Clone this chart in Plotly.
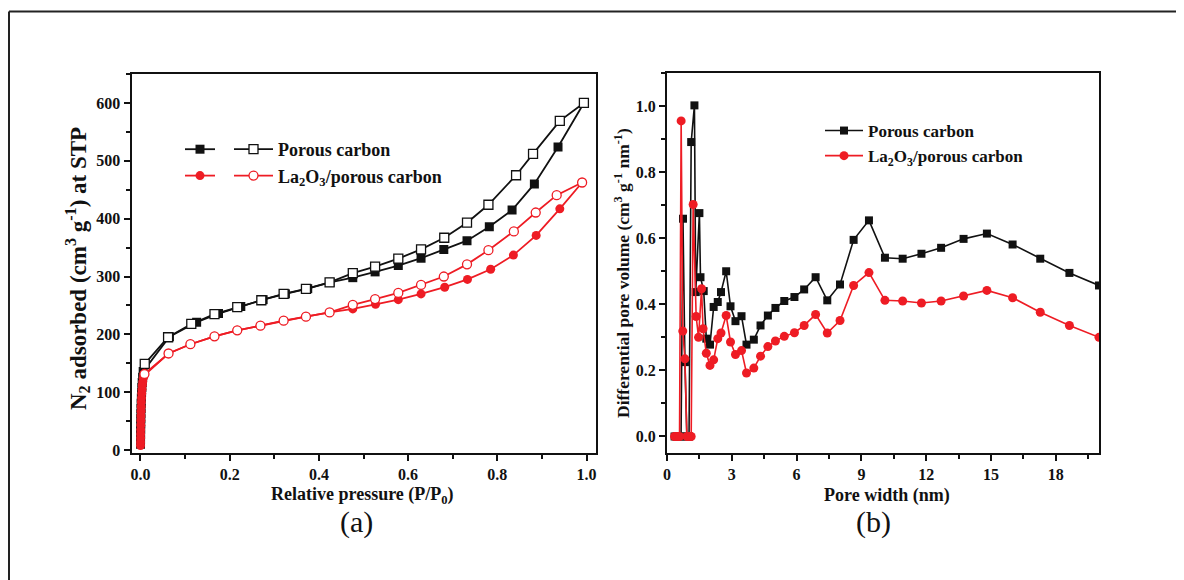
import plotly.graph_objects as go

# ---------------- Panel (a): N2 isotherms ----------------
pc_ads_p = [0.0002, 0.0003, 0.0004, 0.0005, 0.0007, 0.0009, 0.0011, 0.0014, 0.0017, 0.0021,
            0.0026, 0.0032, 0.0040, 0.0050, 0.0062, 0.065, 0.126, 0.175, 0.225, 0.275, 0.325,
            0.375, 0.425, 0.476, 0.526, 0.578, 0.629, 0.680, 0.732, 0.782, 0.833, 0.883, 0.936, 0.994]
pc_ads_v = [10, 18, 27, 36, 45, 54, 63, 72, 81, 90, 99, 108, 117, 126, 136, 196, 221, 236, 248,
            260, 270, 279, 290, 298, 308, 319, 331.6, 346.5, 362, 386, 415, 460, 524, 600]
pc_des_p = [0.994, 0.940, 0.880, 0.842, 0.780, 0.732, 0.681, 0.629, 0.578, 0.526, 0.476, 0.424,
            0.371, 0.321, 0.271, 0.217, 0.166, 0.114, 0.062, 0.0097]
pc_des_v = [600, 569, 512, 475, 424, 393, 367, 347, 331, 317, 306, 290, 278.6, 270, 259, 247,
            235, 218, 195, 149]

la_ads_p = [0.0002, 0.0003, 0.0004, 0.0005, 0.0006, 0.0008, 0.0010, 0.0012, 0.0015, 0.0018,
            0.0021, 0.0025, 0.0030, 0.0036, 0.0043, 0.0052, 0.0063, 0.0080, 0.063, 0.112, 0.166,
            0.217, 0.269, 0.321, 0.371, 0.424, 0.476, 0.527, 0.578, 0.629, 0.682, 0.733, 0.785,
            0.836, 0.887, 0.940, 0.990]
la_ads_v = [8, 14, 21, 28, 35, 43, 51, 59, 67, 75, 83, 90, 98, 105, 112, 118, 124, 129, 167, 183,
            196.6, 207, 215, 223.7, 230.6, 238, 244, 252, 260, 270, 281.5, 295, 312.5, 337, 371,
            417, 462.5]
la_des_p = [0.990, 0.933, 0.886, 0.837, 0.780, 0.732, 0.680, 0.629, 0.578, 0.526, 0.476, 0.424,
            0.371, 0.321, 0.269, 0.217, 0.166, 0.112, 0.063, 0.009]
la_des_v = [462.5, 440.6, 410.6, 378, 345.5, 321, 300, 285.5, 271.6, 261, 251, 238, 230.6,
            223.7, 215, 207, 196.6, 183, 167, 131.5]

# ---------------- Panel (b): pore size distribution ----------------
pc_w = [0.35, 0.45, 0.55, 0.65, 0.74, 0.83, 0.92, 1.02, 1.12, 1.27, 1.33, 1.50, 1.55, 1.70,
        1.82, 1.99, 2.16, 2.35, 2.50, 2.74, 2.94, 3.17, 3.45, 3.68, 4.02, 4.33, 4.67, 5.02,
        5.43, 5.90, 6.35, 6.88, 7.42, 8.01, 8.64, 9.35, 10.09, 10.91, 11.78, 12.69, 13.73,
        14.81, 16.0, 17.28, 18.63, 20.0]
pc_dv = [0, 0, 0, 0, 0.659, 0.225, 0, 0, 0.891, 1.002, 0.437, 0.676, 0.482, 0.44,
         0.296, 0.278, 0.392, 0.407, 0.437, 0.500, 0.394, 0.349, 0.364, 0.278, 0.293, 0.336,
         0.366, 0.389, 0.41, 0.422, 0.445, 0.482, 0.412, 0.46, 0.595, 0.654, 0.541, 0.538,
         0.553, 0.571, 0.598, 0.614, 0.581, 0.538, 0.495, 0.457]
la_w = [0.35, 0.42, 0.50, 0.58, 0.655, 0.73, 0.83, 0.92, 1.02, 1.12, 1.21, 1.35, 1.46, 1.60,
        1.67, 1.82, 1.99, 2.16, 2.35, 2.50, 2.74, 2.94, 3.17, 3.45, 3.68, 4.02, 4.33, 4.67,
        5.02, 5.43, 5.90, 6.35, 6.88, 7.42, 8.01, 8.64, 9.35, 10.09, 10.91, 11.78, 12.69,
        13.73, 14.81, 16.0, 17.28, 18.63, 20.0]
la_dv = [0, 0, 0, 0, 0.955, 0.319, 0.235, 0, 0, 0, 0.702, 0.363, 0.30, 0.447,
         0.326, 0.252, 0.215, 0.232, 0.296, 0.313, 0.366, 0.286, 0.248, 0.26, 0.192, 0.207,
         0.243, 0.272, 0.289, 0.303, 0.314, 0.336, 0.369, 0.313, 0.351, 0.457, 0.496, 0.412,
         0.41, 0.404, 0.41, 0.425, 0.442, 0.42, 0.376, 0.336, 0.30]

name_pc = "Porous carbon"
name_la = "La<sub>2</sub>O<sub>3</sub>/porous carbon"

BLACK = "#111111"
RED = "#ee1c24"
OFF = 8                      # default page margin of the html body
W, H = 1184 - OFF, 580 - OFF


def fx(px):
    """page pixel x -> paper fraction"""
    return (px - OFF) / W


def fy(py):
    """page pixel y -> paper fraction"""
    return 1 - (py - OFF) / H


fig = go.Figure()

# panel (a)
fig.add_trace(go.Scatter(x=pc_ads_p, y=pc_ads_v, mode="lines+markers", name=" ",
                         line=dict(color=BLACK, width=1.8),
                         marker=dict(symbol="square", size=9, color=BLACK),
                         xaxis="x", yaxis="y", legend="legend"))
fig.add_trace(go.Scatter(x=pc_des_p, y=pc_des_v, mode="lines+markers", name=name_pc,
                         line=dict(color=BLACK, width=1.8),
                         marker=dict(symbol="square", size=9, color="white",
                                     line=dict(color=BLACK, width=1.3)),
                         xaxis="x", yaxis="y", legend="legend2"))
fig.add_trace(go.Scatter(x=la_ads_p, y=la_ads_v, mode="lines+markers", name=" ",
                         line=dict(color=RED, width=1.8),
                         marker=dict(symbol="circle", size=9, color=RED),
                         xaxis="x", yaxis="y", legend="legend"))
fig.add_trace(go.Scatter(x=la_des_p, y=la_des_v, mode="lines+markers", name=name_la,
                         line=dict(color=RED, width=1.8),
                         marker=dict(symbol="circle", size=9, color="white",
                                     line=dict(color=RED, width=1.3)),
                         xaxis="x", yaxis="y", legend="legend2"))

# panel (b)
fig.add_trace(go.Scatter(x=pc_w, y=pc_dv, mode="lines+markers", name=name_pc,
                         line=dict(color=BLACK, width=1.6),
                         marker=dict(symbol="square", size=8, color=BLACK),
                         xaxis="x2", yaxis="y2", legend="legend3"))
fig.add_trace(go.Scatter(x=la_w, y=la_dv, mode="lines+markers", name=name_la,
                         line=dict(color=RED, width=1.6),
                         marker=dict(symbol="circle", size=9, color=RED),
                         xaxis="x2", yaxis="y2", legend="legend3"))

tickfont = dict(family="Liberation Serif", size=16, color=BLACK, weight="bold")
axis_common = dict(showline=True, linecolor=BLACK, linewidth=2, mirror=True,
                   ticks="outside", ticklen=6, tickwidth=2, tickcolor=BLACK,
                   showgrid=False, zeroline=False, automargin=False, tickfont=tickfont)


def minor(d):
    return dict(dtick=d, ticks="outside", ticklen=4, tickwidth=1.5, tickcolor=BLACK)


legfont18 = dict(family="Liberation Serif", size=18, color=BLACK, weight="bold")
legfont17 = dict(family="Liberation Serif", size=17, color=BLACK, weight="bold")

fig.update_layout(
    width=W, height=H,
    margin=dict(l=0, r=0, t=0, b=0),
    paper_bgcolor="white", plot_bgcolor="white",
    font=dict(family="Liberation Serif", size=16, color=BLACK, weight="bold"),
    xaxis=dict(domain=[fx(131.5), fx(595.5)], range=[-0.02, 1.02], dtick=0.2, tick0=0,
               tickformat=".1f", anchor="y", minor=minor(0.1), **axis_common),
    yaxis=dict(domain=[fy(453), fy(74)], range=[-5, 650], dtick=100, tick0=0,
               anchor="x", minor=minor(50), **axis_common),
    xaxis2=dict(domain=[fx(667), fx(1099)], range=[0, 20], dtick=3, tick0=0, anchor="y2",
                minor=minor(1.5), **axis_common),
    yaxis2=dict(domain=[fy(453), fy(73)], range=[-0.05, 1.1], dtick=0.2, tick0=0,
                tickformat=".1f", anchor="x2", minor=minor(0.1), **axis_common),
    legend=dict(x=fx(180), y=fy(131), xanchor="left", yanchor="top",
                bgcolor="rgba(0,0,0,0)", borderwidth=0, tracegroupgap=0, font=legfont18),
    legend2=dict(x=fx(229), y=fy(131), xanchor="left", yanchor="top", itemwidth=39,
                 bgcolor="rgba(0,0,0,0)", borderwidth=0, tracegroupgap=0, font=legfont18),
    legend3=dict(x=fx(820), y=fy(113), xanchor="left", yanchor="top", itemwidth=38,
                 bgcolor="rgba(0,0,0,0)", borderwidth=0, tracegroupgap=0, font=legfont17),
    showlegend=True,
)


def label(text, px, py, size, weight="bold", angle=0):
    return dict(text=text, x=fx(px), y=fy(py), textangle=angle,
                xref="paper", yref="paper", showarrow=False,
                xanchor="center", yanchor="middle",
                font=dict(family="Liberation Serif", size=size, color=BLACK, weight=weight))


ann = [
    label("Relative pressure (P/P<sub>0</sub>)", 363, 495, 18),
    label("Pore width (nm)", 887, 495, 18),
    label("N<sub>2</sub> adsorbed (cm<sup>3</sup> g<sup>-1</sup>) at STP", 77, 269, 23, angle=-90),
    label("Differential pore volume (cm<sup>3</sup> g<sup>-1</sup> nm<sup>-1</sup>)",
          622, 273, 17.5, angle=-90),
    label("(a)", 356, 522, 30, weight="normal"),
    label("(b)", 873, 522, 30, weight="normal"),
]
fig.update_layout(annotations=ann)

# outer frame of the figure (top and left edges visible)
fig.add_shape(type="line", xref="paper", yref="paper", x0=fx(9), x1=1.0,
              y0=fy(11.5), y1=fy(11.5), line=dict(color="#222222", width=2))
fig.add_shape(type="line", xref="paper", yref="paper", x0=fx(9), x1=fx(9),
              y0=0, y1=fy(11.5), line=dict(color="#222222", width=2))

fig.write_html("out.html")
